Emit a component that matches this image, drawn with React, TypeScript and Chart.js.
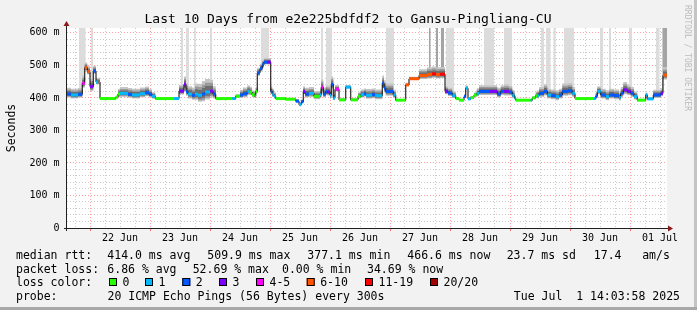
import React, { useEffect, useRef } from 'react';
import { Chart, registerables } from 'chart.js';

Chart.register(...registerables);

// x values are hours after 21 Jun 2025 00:00
const START_HOUR = 14.8;
const END_HOUR = 254.8;
const Y_MAX = 615;

const medianHours = [
  14.8, 16.4, 19.2, 20.9, 21.9, 22.9, 24.0, 25.3, 26.4, 27.4, 28.0, 34.3, 35.2, 36.0, 39.2, 40.8, 44.0, 46.0, 47.6, 48.8,
  50.1, 57.6, 59.6, 61.6, 62.4, 63.2, 64.8, 66.0, 67.2, 68.8, 70.0, 72.0, 73.2, 74.3, 80.9, 82.3, 84.0, 85.2, 86.9, 88.0,
  88.8, 89.9, 90.3, 90.9, 92.0, 92.9, 93.6, 94.8, 96.3, 96.9, 97.6, 98.3, 102.3, 106.3, 107.6, 108.5, 109.3, 110.0, 111.6, 113.6,
  116.0, 116.5, 117.3, 118.3, 118.9, 120.0, 120.5, 121.3, 122.0, 123.6, 126.3, 128.3, 131.2, 132.3, 133.6, 134.4, 136.8, 138.0, 140.9, 141.6,
  142.3, 145.3, 146.3, 150.3, 151.6, 155.6, 158.8, 160.8, 162.4, 164.0, 166.0, 167.2, 168.9, 170.3, 171.6, 173.6, 174.3, 175.2, 176.3, 177.6,
  178.7, 179.6, 184.0, 186.9, 188.3, 189.6, 191.6, 192.9, 193.8, 194.3, 200.3, 200.9, 202.3, 202.8, 203.6, 205.6, 206.9, 208.4, 210.3, 211.6,
  212.9, 215.2, 216.9, 218.0, 225.6, 226.3, 226.9, 228.3, 230.3, 231.6, 233.6, 235.6, 236.3, 237.3, 238.9, 240.3, 241.6, 242.9, 246.3, 246.9,
  249.3, 252.3, 253.2,
];

// median rtt in milliseconds
const medianValues = [
  412, 409, 411, 445, 493, 481, 435, 483, 449, 449, 398, 402, 412, 414, 411, 409, 413, 416, 411, 405,
  398, 398, 421, 442, 420, 412, 408, 412, 408, 412, 418, 421, 412, 398, 398, 405, 409, 413, 420, 418,
  410, 405, 420, 477, 490, 502, 510, 510, 420, 412, 405, 398, 396, 390, 380, 388, 420, 412, 414, 405,
  410, 433, 412, 420, 418, 408, 442, 400, 427, 394, 433, 394, 405, 410, 413, 408, 410, 407, 445, 430,
  420, 409, 393, 440, 459, 469, 472, 474, 472, 473, 420, 415, 407, 398, 393, 404, 430, 397, 401, 409,
  414, 420, 420, 412, 420, 420, 418, 408, 400, 393, 393, 400, 407, 407, 414, 420, 409, 407, 404, 409,
  420, 422, 414, 398, 398, 405, 420, 409, 404, 409, 407, 401, 414, 425, 420, 414, 404, 393, 409, 397,
  409, 414, 470,
];

// loss colour bucket: 0 | 1 | 2 | 3 | 4-5 | 6-10 | 11-19 | 20/20
const medianLoss = [
  2, 1, 2, 4, 5, 5, 3, 2, 1, 5, 0, 0, 0, 1, 2, 1, 1, 2, 2, 1,
  0, 1, 3, 3, 2, 1, 2, 1, 1, 2, 1, 3, 2, 0, 1, 0, 2, 2, 1, 0,
  0, 0, 0, 2, 2, 2, 2, 3, 2, 1, 1, 0, 0, 2, 1, 2, 3, 2, 1, 0,
  1, 4, 2, 2, 3, 1, 2, 1, 4, 0, 1, 0, 0, 1, 2, 1, 2, 1, 2, 2,
  2, 1, 0, 5, 5, 5, 5, 6, 5, 6, 3, 2, 1, 0, 0, 2, 1, 1, 0, 0,
  1, 2, 3, 2, 2, 3, 2, 1, 1, 0, 1, 0, 0, 1, 2, 2, 1, 2, 1, 2,
  2, 2, 1, 0, 1, 2, 1, 2, 1, 2, 2, 1, 2, 3, 3, 2, 1, 0, 1, 1,
  2, 3, 5,
];

// spread of the smoke around the median, ms
const smokeSpread = [
  12, 12, 12, 15, 10, 10, 15, 10, 8, 8, 2, 3, 10, 12, 12, 12, 12, 12, 10, 8,
  2, 2, 12, 15, 15, 15, 15, 20, 22, 25, 25, 22, 15, 2, 3, 4, 10, 12, 12, 10,
  8, 5, 8, 10, 10, 10, 8, 8, 10, 10, 8, 2, 2, 4, 4, 5, 10, 12, 12, 10,
  12, 15, 12, 12, 12, 12, 15, 8, 8, 3, 4, 3, 8, 10, 10, 12, 12, 12, 15, 15,
  15, 10, 2, 4, 4, 12, 14, 14, 14, 14, 10, 10, 8, 3, 3, 5, 5, 3, 3, 5,
  10, 12, 12, 12, 12, 14, 12, 10, 5, 2, 2, 3, 8, 10, 12, 14, 12, 12, 12, 12,
  15, 15, 12, 2, 3, 8, 10, 12, 12, 12, 12, 10, 12, 15, 12, 12, 10, 3, 5, 3,
  10, 10, 15,
];

// tall smoke columns reaching the top of the graph
const columnStart = [19.6, 24.3, 60.3, 62.3, 65.6, 72.0, 92.3, 116.3, 118.3, 142.3, 159.6, 162.3, 164.3, 166.3, 181.6, 189.6, 204.3, 206.3, 209.3, 213.6, 228.0, 231.6, 239.6, 250.3, 252.9];
const columnEnd = [22.3, 25.3, 61.3, 63.6, 66.3, 72.9, 95.6, 117.3, 120.9, 145.6, 160.3, 163.2, 165.6, 169.6, 185.6, 192.9, 205.6, 208.3, 210.3, 217.6, 229.3, 232.5, 240.9, 251.9, 254.8];
const columnDark = [0, 0, 0, 0, 0, 0, 0, 0, 0, 0, 1, 1, 1, 0, 0, 0, 0, 0, 0, 0, 0, 0, 0, 0, 1];

const dayLabels = ['22 Jun', '23 Jun', '24 Jun', '25 Jun', '26 Jun', '27 Jun', '28 Jun', '29 Jun', '30 Jun', '01 Jul'];

const lossColors = ['#26ff00', '#00b8ff', '#0059ff', '#7e00ff', '#ff00ff', '#ff5500', '#ff0000', '#a10000'];
const lossLabels = ['0', '1', '2', '3', '4-5', '6-10', '11-19', '20/20'];

const titleText = 'Last 10 Days from e2e225bdfdf2 to Gansu-Pingliang-CU';
const medianStats = ['414.0 ms avg', '509.9 ms max', '377.1 ms min', '466.6 ms now', '23.7 ms sd', '17.4', 'am/s'];
const lossStats = ['6.86 % avg', '52.69 % max', '0.00 % min', '34.69 % now'];
const probeText = '20 ICMP Echo Pings (56 Bytes) every 300s';
const dateText = 'Tue Jul  1 14:03:58 2025';

const MONO = '"DejaVu Sans Mono", monospace';

function stepSeries(fn: (i: number) => number) {
  const pts = medianHours.map((h, i) => ({ x: h, y: fn(i) }));
  pts.push({ x: END_HOUR, y: fn(medianHours.length - 1) });
  return pts;
}

function coloredSeries() {
  const pts: { x: number; y: number | null }[] = [];
  medianHours.forEach((h, i) => {
    const h1 = i < medianHours.length - 1 ? medianHours[i + 1] : END_HOUR;
    pts.push({ x: h, y: medianValues[i] }, { x: h1, y: medianValues[i] }, { x: h1, y: null });
  });
  return pts;
}

function columnSeries(dark: number) {
  const pts: { x: number; y: number | null }[] = [];
  columnStart.forEach((a, j) => {
    if (columnDark[j] !== dark) return;
    pts.push({ x: a, y: Y_MAX }, { x: columnEnd[j], y: Y_MAX }, { x: columnEnd[j], y: null });
  });
  return pts;
}

const smokeLayers = [
  { up: 0.75, down: 0.45, color: '#6e6e6e' },
  { up: 1.15, down: 0.7, color: '#9a9a9a' },
  { up: 1.6, down: 0.9, color: '#c6c6c6' },
];

const decorPlugin = {
  id: 'decor',
  beforeDraw(chart: any) {
    const ctx = chart.ctx;
    const { left, right, top, bottom } = chart.chartArea;
    ctx.save();
    ctx.fillStyle = '#f2f2f2';
    ctx.fillRect(0, 0, chart.width, chart.height);
    ctx.fillStyle = '#c4c4c4';
    ctx.fillRect(chart.width - 3, 0, 3, chart.height);
    ctx.fillStyle = '#a8a8a8';
    ctx.fillRect(0, chart.height - 3, chart.width, 3);
    ctx.fillStyle = '#ffffff';
    ctx.fillRect(left, top, right - left, bottom - top);
    ctx.restore();
  },
  afterDraw(chart: any) {
    const ctx = chart.ctx;
    const { left, right, top, bottom } = chart.chartArea;
    ctx.save();
    // axes
    ctx.strokeStyle = '#202020';
    ctx.lineWidth = 1;
    ctx.beginPath();
    ctx.moveTo(left - 3, bottom + 0.5);
    ctx.lineTo(right + 3, bottom + 0.5);
    ctx.moveTo(left - 0.5, bottom + 3);
    ctx.lineTo(left - 0.5, top - 3);
    ctx.stroke();
    ctx.fillStyle = '#8b1a1a';
    ctx.beginPath();
    ctx.moveTo(right + 1, bottom - 2.5);
    ctx.lineTo(right + 6, bottom + 0.5);
    ctx.lineTo(right + 1, bottom + 3.5);
    ctx.closePath();
    ctx.fill();
    ctx.beginPath();
    ctx.moveTo(left - 3.5, top - 2);
    ctx.lineTo(left - 0.5, top - 7);
    ctx.lineTo(left + 2.5, top - 2);
    ctx.closePath();
    ctx.fill();

    ctx.fillStyle = '#000000';
    ctx.textBaseline = 'alphabetic';
    // title
    ctx.font = `13px ${MONO}`;
    ctx.textAlign = 'center';
    ctx.fillText(titleText, 348, 23);

    // y axis title
    ctx.font = `11.5px ${MONO}`;
    ctx.save();
    ctx.translate(14.5, (top + bottom) / 2);
    ctx.rotate(-Math.PI / 2);
    ctx.textAlign = 'center';
    ctx.fillText('Seconds', 0, 0);
    ctx.restore();

    // watermark
    ctx.save();
    ctx.font = `8px ${MONO}`;
    ctx.fillStyle = '#bcbcbc';
    ctx.translate(685, 5);
    ctx.rotate(Math.PI / 2);
    ctx.textAlign = 'left';
    ctx.fillText('RRDTOOL / TOBI OETIKER', 0, 0);
    ctx.restore();

    // legend
    ctx.font = `11.5px ${MONO}`;
    ctx.textAlign = 'left';
    const row1 = 258.5, row2 = 272.5, row3 = 286.3, row4 = 300.3;
    ctx.fillText('median rtt:', 16, row1);
    const mx = [107.3, 207.3, 307.3, 407.3, 506.7, 593.8, 642.2];
    medianStats.forEach((s, i) => ctx.fillText(s, mx[i], row1));
    ctx.fillText('packet loss:', 16, row2);
    const lx = [107.3, 192.7, 282, 367];
    lossStats.forEach((s, i) => ctx.fillText(s, lx[i], row2));
    ctx.fillText('loss color:', 16, row3);
    const sx = [109, 145, 182.3, 219, 256, 306.7, 365, 430];
    lossLabels.forEach((s, i) => {
      ctx.fillStyle = lossColors[i];
      ctx.fillRect(sx[i], 278, 8, 8);
      ctx.strokeStyle = '#000';
      ctx.strokeRect(sx[i] + 0.5, 278.5, 7, 7);
      ctx.fillStyle = '#000';
      ctx.fillText(s, sx[i] + 13.5, row3);
    });
    ctx.fillText('probe:', 16, row4);
    ctx.fillText(probeText, 107.5, row4);
    ctx.textAlign = 'right';
    ctx.fillText(dateText, 680, row4);
    ctx.restore();
  },
};

export default function App() {
  const ref = useRef<HTMLCanvasElement | null>(null);

  useEffect(() => {
    document.body.style.margin = '0';
    if (!ref.current) return;

    const datasets: any[] = [];
    datasets.push({
      data: coloredSeries(),
      borderWidth: 3,
      borderCapStyle: 'butt',
      borderColor: '#000',
      spanGaps: false,
      segment: {
        borderColor: (c: any) => lossColors[medianLoss[Math.floor(c.p0DataIndex / 3)]],
      },
      fill: false,
    });
    datasets.push({
      data: stepSeries((i) => medianValues[i]),
      stepped: true,
      borderWidth: 1,
      borderColor: '#000000',
      fill: false,
    });
    smokeLayers.forEach((l) => {
      datasets.push({
        data: stepSeries((i) => medianValues[i] + smokeSpread[i] * l.up),
        stepped: true,
        borderWidth: 0,
        borderColor: 'rgba(0,0,0,0)',
        backgroundColor: l.color,
        fill: '+1',
      });
      datasets.push({
        data: stepSeries((i) => medianValues[i] - smokeSpread[i] * l.down),
        stepped: true,
        borderWidth: 0,
        borderColor: 'rgba(0,0,0,0)',
        fill: false,
      });
    });
    datasets.push({
      data: columnSeries(0),
      borderWidth: 0,
      borderColor: 'rgba(0,0,0,0)',
      backgroundColor: '#dcdcdc',
      spanGaps: false,
      fill: 1,
    });
    datasets.push({
      data: columnSeries(1),
      borderWidth: 0,
      borderColor: 'rgba(0,0,0,0)',
      backgroundColor: '#a4a4a4',
      spanGaps: false,
      fill: 1,
    });

    const xTicks: number[] = [];
    for (let h = Math.ceil(START_HOUR / 6) * 6; h <= END_HOUR; h += 6) xTicks.push(h);
    const yTicks: number[] = [];
    for (let v = 0; v <= 600; v += 20) yTicks.push(v);

    const chart = new Chart(ref.current, {
      type: 'line',
      data: { datasets },
      plugins: [decorPlugin],
      options: {
        animation: false,
        responsive: false,
        devicePixelRatio: 1,
        events: [],
        layout: { padding: { top: 28, right: 30, left: 0, bottom: 0 } },
        elements: { point: { radius: 0 }, line: { tension: 0 } },
        plugins: { legend: { display: false }, tooltip: { enabled: false }, title: { display: false } },
        scales: {
          x: {
            type: 'linear',
            min: START_HOUR,
            max: END_HOUR,
            afterBuildTicks: (s: any) => {
              s.ticks = xTicks.map((v) => ({ value: v }));
            },
            afterFit: (s: any) => {
              s.height = 82;
            },
            ticks: {
              autoSkip: false,
              maxRotation: 0,
              minRotation: 0,
              padding: 1,
              color: '#000',
              font: { family: MONO, size: 10 },
              callback: (v: any) => {
                const n = Number(v);
                if (n % 24 !== 12) return '';
                return dayLabels[(n - 36) / 24] ?? '';
              },
            },
            grid: {
              drawTicks: true,
              tickLength: 3,
              lineWidth: 1,
              color: (c: any) => (c.tick && c.tick.value % 24 === 0 ? 'rgba(255,0,0,0.38)' : 'rgba(140,140,140,0.45)'),
              tickColor: (c: any) => (c.tick && c.tick.value % 24 === 0 ? 'rgba(255,0,0,0.55)' : 'rgba(0,0,0,0)'),
            },
            border: { display: false, dash: [1, 2] },
          },
          y: {
            type: 'linear',
            min: 0,
            max: Y_MAX,
            afterBuildTicks: (s: any) => {
              s.ticks = yTicks.map((v) => ({ value: v }));
            },
            afterFit: (s: any) => {
              s.width = 67;
            },
            ticks: {
              autoSkip: false,
              padding: 7.5,
              color: '#000',
              font: { family: MONO, size: 10 },
              callback: (v: any) => {
                const n = Number(v);
                if (n % 100 !== 0) return '';
                return n === 0 ? '0' : `${n} m`;
              },
            },
            grid: {
              drawTicks: false,
              lineWidth: 1,
              color: (c: any) => (c.tick && c.tick.value % 100 === 0 ? 'rgba(255,0,0,0.38)' : 'rgba(140,140,140,0.45)'),
            },
            border: { display: false, dash: [1, 2] },
          },
        },
      } as any,
    });
    return () => chart.destroy();
  }, []);

  return (
    <div style={{ position: 'absolute', left: 0, top: 0, width: 697, height: 310 }}>
      <canvas ref={ref} width={697} height={310} style={{ display: 'block' }} />
    </div>
  );
}
